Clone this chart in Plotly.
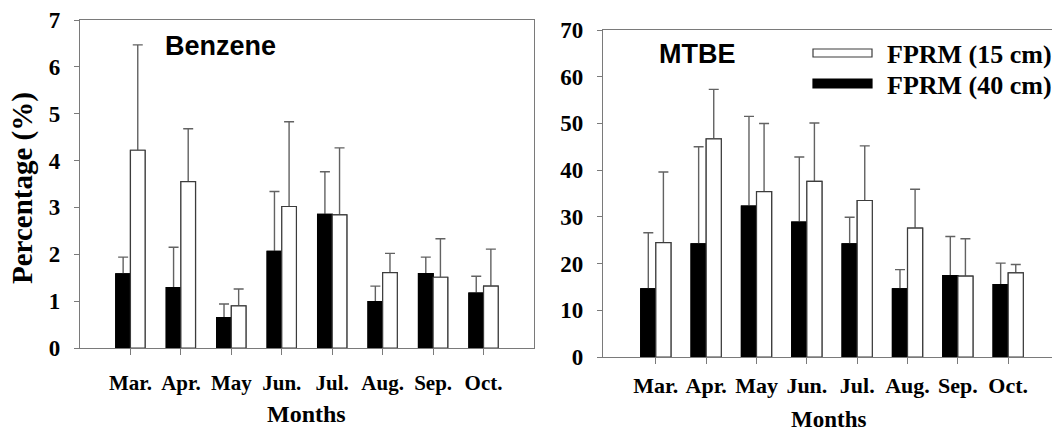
import plotly.graph_objects as go

W, H = 1052, 431

months = ["Mar.", "Apr.", "May", "Jun.", "Jul.", "Aug.", "Sep.", "Oct."]

# Benzene (%)
benzene_40 = [1.58, 1.29, 0.65, 2.06, 2.85, 0.99, 1.59, 1.17]
benzene_40_sd = [0.36, 0.86, 0.29, 1.28, 0.91, 0.33, 0.35, 0.36]
benzene_15 = [4.22, 3.55, 0.90, 3.02, 2.84, 1.61, 1.51, 1.32]
benzene_15_sd = [2.25, 1.13, 0.36, 1.81, 1.43, 0.41, 0.82, 0.79]

# MTBE (%)
mtbe_40 = [14.6, 24.2, 32.3, 28.9, 24.2, 14.6, 17.4, 15.5]
mtbe_40_sd = [12.0, 20.8, 19.2, 13.9, 5.7, 4.1, 8.4, 4.6]
mtbe_15 = [24.5, 46.7, 35.4, 37.6, 33.5, 27.6, 17.3, 18.0]
mtbe_15_sd = [15.1, 10.6, 14.6, 12.5, 11.7, 8.3, 8.0, 1.8]

series_names = ["FPRM (15 cm)", "FPRM (40 cm)"]


def px(x):
    return x / W


def py(y):
    return 1 - y / H


SERIF = "Liberation Serif"
SANS = "Liberation Sans"
AXIS_GREY = "#7a7a7a"
ERR_GREY = "#626262"

fig = go.Figure()


def add_pair(vals40, sd40, vals15, sd15, xa, ya, width):
    specs = [
        (vals40, sd40, "black", "black", -width),
        (vals15, sd15, "white", "#3c3c3c", 0.0),
    ]
    # first pass: bars carrying the upward error whiskers
    for vals, sd, fill, edge, off in specs:
        fig.add_trace(go.Bar(
            x=months, y=vals, width=width, offset=off,
            marker=dict(color=fill, line=dict(color=edge, width=1.2)),
            error_y=dict(type="data", symmetric=False, array=sd, arrayminus=vals,
                         color=ERR_GREY, thickness=1.4, width=5),
            xaxis=xa, yaxis=ya, showlegend=False, hoverinfo="skip",
        ))
    # second pass: same bars redrawn over the lower part of the whiskers
    for vals, sd, fill, edge, off in specs:
        fig.add_trace(go.Bar(
            x=months, y=vals, width=width, offset=off,
            marker=dict(color=fill, line=dict(color=edge, width=1.2)),
            xaxis=xa, yaxis=ya, showlegend=False, hoverinfo="skip",
        ))


add_pair(benzene_40, benzene_40_sd, benzene_15, benzene_15_sd, "x", "y", 0.29)
add_pair(mtbe_40, mtbe_40_sd, mtbe_15, mtbe_15_sd, "x2", "y2", 0.30)

xcommon = dict(type="category", categoryorder="array", categoryarray=months,
               showline=True, linecolor=AXIS_GREY, linewidth=1.3,
               ticks="outside", ticklen=6, tickcolor=AXIS_GREY, tickwidth=1.2,
               showgrid=False, zeroline=False, fixedrange=True,
               automargin=False)
ycommon = dict(showline=True, linecolor=AXIS_GREY, linewidth=1.3,
               ticks="outside", ticklen=5, tickcolor=AXIS_GREY, tickwidth=1.2,
               showgrid=False, zeroline=False, fixedrange=True,
               ticklabelstandoff=9, automargin=False,
               tickfont=dict(family=SERIF, size=23, color="black", weight="bold"))

fig.update_layout(
    width=W, height=H,
    margin=dict(l=0, r=0, t=0, b=0, pad=0, autoexpand=False),
    paper_bgcolor="white", plot_bgcolor="white",
    barmode="overlay",
    showlegend=False,
    xaxis=dict(xcommon, domain=[px(80), px(534)], range=[-1, 8], mirror=True,
               anchor="y", ticklabelstandoff=10,
               tickfont=dict(family=SERIF, size=21, color="black", weight="bold")),
    yaxis=dict(ycommon, domain=[py(348), py(20)], range=[0, 7], dtick=1,
               mirror=True, anchor="x"),
    xaxis2=dict(xcommon, domain=[px(603), 1.0], range=[-1.05, 7.87], mirror=True,
                anchor="y2", ticklabelstandoff=2,
                tickfont=dict(family=SERIF, size=22, color="black", weight="bold")),
    yaxis2=dict(ycommon, domain=[py(357), py(30)], range=[0, 70], dtick=10,
                mirror=False, anchor="x2"),
)

annotations = [
    dict(text="Benzene", x=px(220), y=py(46), font=dict(family=SANS, size=27, color="black", weight="bold")),
    dict(text="MTBE", x=px(697), y=py(54), font=dict(family=SANS, size=27, color="black", weight="bold")),
    dict(text="Percentage (%)", x=px(23), y=py(188), textangle=-90,
         font=dict(family=SERIF, size=29, color="black", weight="bold")),
    dict(text="Months", x=px(306), y=py(414), font=dict(family=SERIF, size=24, color="black", weight="bold")),
    dict(text="Months", x=px(828), y=py(419), font=dict(family=SERIF, size=23, color="black", weight="bold")),
]
for a in annotations:
    a.update(xref="paper", yref="paper", showarrow=False, xanchor="center", yanchor="middle")
    fig.add_annotation(**a)

# legend keys drawn as wide swatches next to their labels
legend_rows = [(53, "white", "#3c3c3c", 8), (83.5, "black", "black", 9)]
for (yc, fill, edge, hgt), name in zip(legend_rows, series_names):
    fig.add_shape(type="rect", xref="paper", yref="paper",
                  x0=px(813), x1=px(872), y0=py(yc - hgt / 2), y1=py(yc + hgt / 2),
                  fillcolor=fill, line=dict(color=edge, width=1.2))
    fig.add_annotation(text=name, xref="paper", yref="paper", x=px(885), y=py(yc + 1.5),
                       xanchor="left", yanchor="middle", showarrow=False,
                       font=dict(family=SERIF, size=26, color="black", weight="bold"))

fig.write_html("out.html")
